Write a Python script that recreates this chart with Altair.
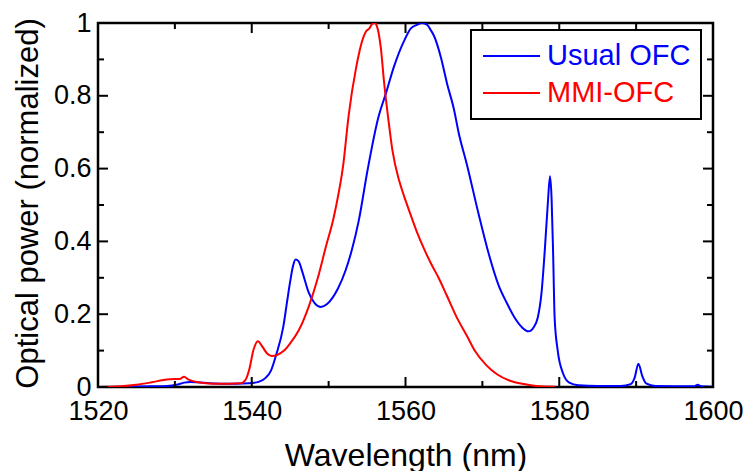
import altair as alt
import pandas as pd

# ---- data ----
SERIES = ["Usual OFC", "MMI-OFC"]
COLORS = ["#0000ff", "#ff0000"]

usual_wl = [1520, 1524, 1527, 1529, 1530.2, 1531.2, 1532, 1533, 1534.5, 1536, 1538, 1539.6,
            1540.9, 1541.8, 1542.5, 1543.2, 1544.1, 1544.6, 1545.0, 1545.4, 1545.7, 1546.1,
            1546.6, 1547.4, 1548.2, 1549.0, 1549.8, 1550.5, 1551.2, 1552.2, 1553.0, 1553.9,
            1555.1, 1556.4, 1557.5, 1558.5, 1559.8, 1560.7, 1561.5, 1562.2, 1562.8, 1563.3,
            1563.7, 1564.6, 1565.4, 1566.3, 1566.9, 1568.0, 1569.5, 1570.8, 1572.1, 1573.2,
            1574.2, 1575.2, 1576.0, 1576.7, 1577.2, 1577.7, 1578.1, 1578.5, 1578.8, 1579.0,
            1579.2, 1579.4, 1579.8, 1580.5, 1581.3, 1582.5, 1585, 1588, 1589.3, 1589.8,
            1590.3, 1590.8, 1591.3, 1592.5, 1597.5, 1598, 1598.5, 1600]
usual_pw = [0.0, 0.001, 0.002, 0.003, 0.006, 0.012, 0.014, 0.013, 0.010, 0.009, 0.009, 0.010,
            0.014, 0.025, 0.045, 0.09, 0.165, 0.235, 0.29, 0.335, 0.35, 0.345,
            0.315, 0.26, 0.23, 0.22, 0.228, 0.245, 0.27, 0.32, 0.375, 0.455,
            0.60, 0.735, 0.81, 0.88, 0.95, 0.985, 0.995, 1.0, 0.995, 0.98,
            0.965, 0.906, 0.834, 0.763, 0.70, 0.61, 0.476, 0.368, 0.28, 0.23,
            0.19, 0.163, 0.153, 0.165, 0.19, 0.26, 0.37, 0.50, 0.579, 0.52,
            0.37, 0.19, 0.10, 0.037, 0.012, 0.005, 0.003, 0.003, 0.008, 0.025,
            0.064, 0.03, 0.01, 0.003, 0.002, 0.006, 0.002, 0.001]

mmi_wl = [1520, 1523, 1525, 1527, 1528.5, 1530, 1530.6, 1531.2, 1531.8, 1533, 1535, 1537,
          1538.5, 1539.2, 1539.7, 1540.2, 1540.8, 1541.4, 1542.0, 1542.6, 1543.3, 1544.2,
          1545.0, 1546.1, 1547.4, 1548.6, 1549.7, 1550.6, 1551.0, 1551.9, 1552.6, 1553.6,
          1554.5, 1554.9, 1555.3, 1555.7, 1556.0, 1556.3, 1556.8, 1557.2, 1557.8, 1558.3,
          1559.2, 1559.8, 1560.3, 1561.5, 1562.4, 1563.3, 1564.3, 1565.4, 1566.7, 1568.0,
          1569.0, 1570.5, 1571.9, 1573.5, 1575.4, 1577, 1579.5]
mmi_pw = [0.0, 0.002, 0.006, 0.013, 0.019, 0.022, 0.022, 0.028, 0.020, 0.013, 0.009, 0.009,
          0.010, 0.020, 0.05, 0.10, 0.126, 0.11, 0.092, 0.085, 0.088, 0.10,
          0.12, 0.155, 0.22, 0.30, 0.39, 0.46, 0.50, 0.61, 0.745, 0.88,
          0.96, 0.978, 0.985, 0.998, 1.0, 0.99, 0.93, 0.84, 0.73, 0.65,
          0.565, 0.525, 0.495, 0.425, 0.38, 0.34, 0.30, 0.25, 0.19, 0.14,
          0.10, 0.06, 0.035, 0.018, 0.008, 0.003, 0.001]

X_MAJOR = [1520, 1540, 1560, 1580, 1600]
X_MINOR = [1530, 1550, 1570, 1590]
Y_MAJOR = [0, 0.2, 0.4, 0.6, 0.8, 1.0]
Y_MINOR = [0.1, 0.3, 0.5, 0.7, 0.9]

# ---- layout ----
W, H = 615, 364
FONT = "Liberation Sans"
MAJ, MIN = 10, 6

usual = pd.DataFrame({"wl": usual_wl, "pw": usual_pw, "series": SERIES[0]})
mmi = pd.DataFrame({"wl": mmi_wl, "pw": mmi_pw, "series": SERIES[1]})

xscale = alt.Scale(domain=[1520, 1600], nice=False, zero=False)
yscale = alt.Scale(domain=[0, 1], nice=False, zero=False)

xaxis = alt.Axis(values=X_MAJOR, ticks=False, domain=False, grid=False, format="d",
                 labelFont=FONT, labelFontSize=27, labelColor="black", labelPadding=11,
                 labelFlush=False, labelOverlap=False,
                 title="Wavelength (nm)", titleFont=FONT, titleFontSize=32,
                 titleFontWeight="normal", titleColor="black",
                 titleY=78, titleBaseline="alphabetic")
yaxis = alt.Axis(values=Y_MAJOR, ticks=False, domain=False, grid=False, format=".1~f",
                 labelFont=FONT, labelFontSize=27, labelColor="black", labelPadding=7,
                 labelFlush=False, labelOverlap=False,
                 title="Optical power (normalized)", titleFont=FONT, titleFontSize=31,
                 titleFontWeight="normal", titleColor="black",
                 titleX=-70, titleY=180, titleAngle=270, titleAlign="center",
                 titleBaseline="middle")

blue = alt.Chart(usual).mark_line(color=COLORS[0], strokeWidth=2, interpolate="monotone", clip=True).encode(
    x=alt.X("wl:Q", scale=xscale, axis=xaxis),
    y=alt.Y("pw:Q", scale=yscale, axis=yaxis),
)
red = alt.Chart(mmi).mark_line(color=COLORS[1], strokeWidth=2, interpolate="monotone", clip=True).encode(
    x=alt.X("wl:Q", scale=xscale),
    y=alt.Y("pw:Q", scale=yscale),
)

xmaj = pd.DataFrame({"v": X_MAJOR})
xmin = pd.DataFrame({"v": X_MINOR})
ymaj = pd.DataFrame({"v": Y_MAJOR})
ymin = pd.DataFrame({"v": Y_MINOR})

def xticks(df, length):
    bottom = alt.Chart(df).mark_rule(color="black", strokeWidth=2).encode(
        x=alt.X("v:Q", scale=xscale), y=alt.value(H), y2=alt.value(H - length))
    top = alt.Chart(df).mark_rule(color="black", strokeWidth=2).encode(
        x=alt.X("v:Q", scale=xscale), y=alt.value(0), y2=alt.value(length))
    return [bottom, top]

def yticks(df, length):
    left = alt.Chart(df).mark_rule(color="black", strokeWidth=2).encode(
        y=alt.Y("v:Q", scale=yscale), x=alt.value(0), x2=alt.value(length))
    right = alt.Chart(df).mark_rule(color="black", strokeWidth=2).encode(
        y=alt.Y("v:Q", scale=yscale), x=alt.value(W), x2=alt.value(W - length))
    return [left, right]

ticks = xticks(xmaj, MAJ) + xticks(xmin, MIN) + yticks(ymaj, MAJ) + yticks(ymin, MIN)

# ---- legend (drawn box) ----
LX0, LX1, LY0, LY1 = 373, 603, 7, 96
ROW_Y = [33, 70]
box = alt.Chart(pd.DataFrame({"s": [0]})).mark_rect(fill="white", stroke="black", strokeWidth=2).encode(
    x=alt.value(LX0), x2=alt.value(LX1), y=alt.value(LY0), y2=alt.value(LY1))
legend_layers = [box]
for name, col, ry in zip(SERIES, COLORS, ROW_Y):
    src = pd.DataFrame({"series": [name]})
    legend_layers.append(alt.Chart(src).mark_rule(color=col, strokeWidth=2).encode(
        x=alt.value(385), x2=alt.value(442), y=alt.value(ry)))
    legend_layers.append(alt.Chart(src).mark_text(
        align="left", baseline="middle", font=FONT, fontSize=29, color=col).encode(
        x=alt.value(449), y=alt.value(ry), text="series:N"))

chart = alt.layer(blue, red, *ticks, *legend_layers).properties(
    width=W, height=H,
    autosize=alt.AutoSizeParams(type="none"),
    padding={"left": 90, "top": 15, "right": 32, "bottom": 84},
    background="white",
).configure_view(stroke="black", strokeWidth=2.5)

chart.save("out.html", embed_options={"renderer": "svg", "actions": False})
